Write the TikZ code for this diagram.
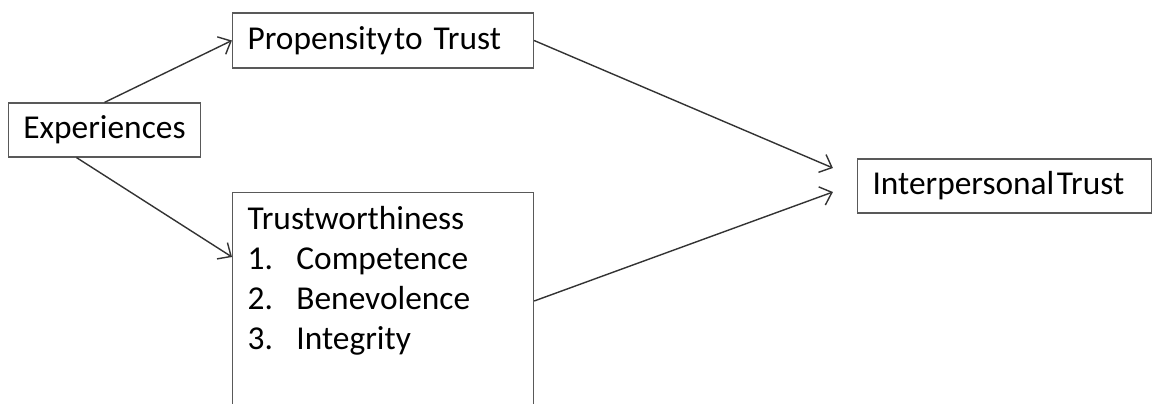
\documentclass[tikz,border=0pt]{standalone}
\usepackage{fontspec}
\setmainfont{Carlito}
\usetikzlibrary{arrows.meta,calc}

\begin{document}
\begin{tikzpicture}[
                      x = 0.02cm,
                      y = 0.02cm,
              box/.style = {draw=black!65, line width=0.8pt, inner xsep=8.5pt, inner ysep=0pt,
                            align=left, font=\fontsize{19}{22.7}\selectfont},
             link/.style = {draw=black!80, line width=0.8pt,
                            -{Straight Barb[length=6pt,width=11pt]}},
                     ]
\useasboundingbox (0,0) rectangle (1157,403);
\clip (0,0) rectangle (1157,403);
\node[box, align=center, minimum width=108.3pt, minimum height=30.6pt] (exp) at (104.5,273) {Experiences};
\node[box, text width=154.2pt, minimum height=31.2pt] (prop) at (383,362.5) {Propensity\hspace{0.06em}to Trust};
\node[box, text width=150.2pt, minimum height=30.6pt] (inter) at (1004.5,217) {Interpersonal\hspace{0.08em}Trust};
\node[box, text width=154.2pt, anchor=north west, text height=21pt, text depth=141pt] (trust) at (232,211)
    {Trustworthiness\\
     \makebox[27.8pt][l]{1.}Competence\\
     \makebox[27.8pt][l]{2.}Benevolence\\
     \makebox[27.8pt][l]{3.}Integrity};
% experiences feed both factors
\draw[link] (exp.north) -- (prop.west);
\draw[link] ($(exp.south)+(-28,0)$) -- ($(trust.north west)+(0,-65)$);
% both factors feed trust
\draw[link] (prop.east) -- ($(inter.west)+(-24,18)$);
\draw[link] ($(trust.north east)+(0,-109)$) -- ($(inter.west)+(-24,-6)$);
\end{tikzpicture}
\end{document}
